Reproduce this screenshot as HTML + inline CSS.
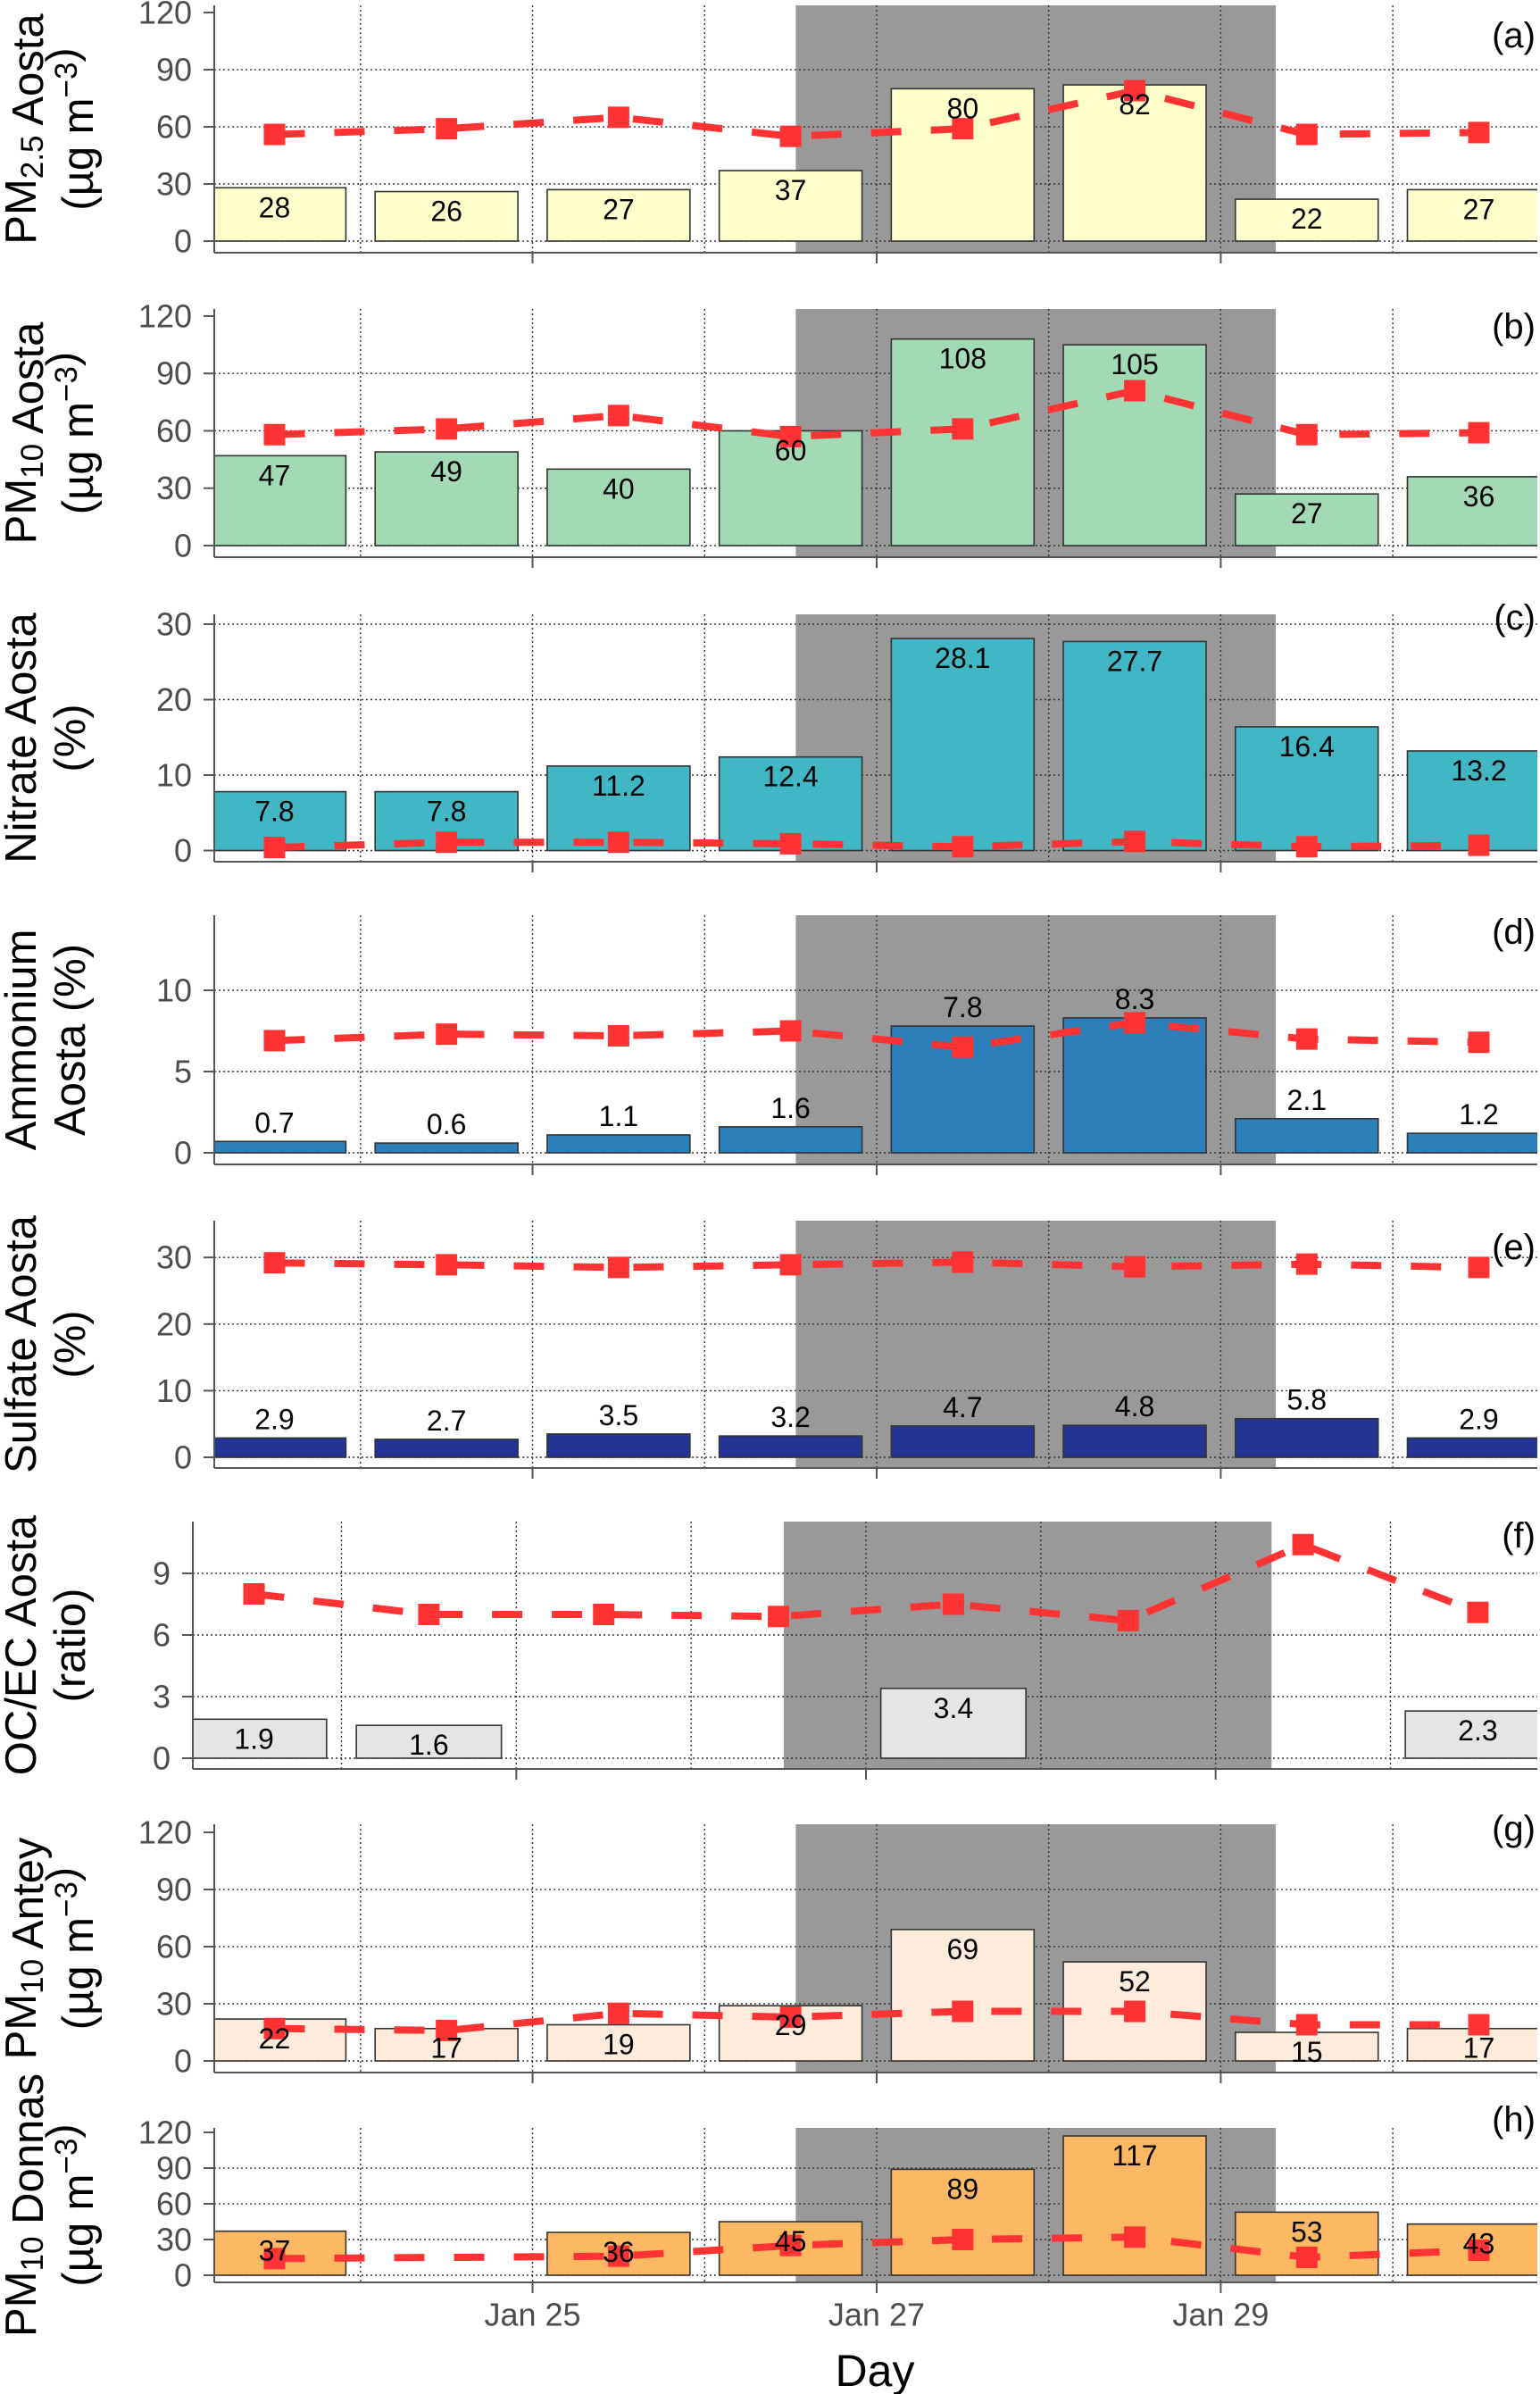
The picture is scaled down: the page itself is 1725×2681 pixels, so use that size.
<!DOCTYPE html>
<html><head><meta charset="utf-8"><style>
html,body{margin:0;padding:0;background:#fff;}
svg{display:block;font-family:"Liberation Sans",Arial,sans-serif;}
</style></head><body>
<svg id="chart" xmlns="http://www.w3.org/2000/svg" width="1725" height="2681" viewBox="0 0 1725 2681"></svg>
<script>
// ---- data ----
const barDays = [23.5,24.5,25.5,26.5,27.5,28.5,29.5,30.5];
const dayGrid = [24,25,26,27,28,29,30];
const xTickDays = [25,27,29];
const xTickLabels = ["Jan 25","Jan 27","Jan 29"];
const shadeStart = 26.53, shadeEnd = 29.32;

const barsA = [28,26,27,37,80,82,22,27];
const lineA = [56,59,65,55,59,79,56,57];
const barsB = [47,49,40,60,108,105,27,36];
const lineB = [58,61,68,57,61,81,58,59];
const barsC = [7.8,7.8,11.2,12.4,28.1,27.7,16.4,13.2];
const lineC = [0.4,1.1,1.1,0.9,0.5,1.2,0.5,0.7];
const barsD = [0.7,0.6,1.1,1.6,7.8,8.3,2.1,1.2];
const lineD = [6.9,7.3,7.2,7.5,6.5,8.0,7.0,6.8];
const barsE = [2.9,2.7,3.5,3.2,4.7,4.8,5.8,2.9];
const lineE = [29.2,28.9,28.5,28.9,29.3,28.6,29.0,28.5];
const barsF = [1.9,1.6,null,null,3.4,null,null,2.3];
const lineF = [8.0,7.0,7.0,6.9,7.5,6.7,10.4,7.1];
const barsG = [22,17,19,29,69,52,15,17];
const lineG = [17,16,25,23,26,26,19,19];
const barsH = [37,null,36,45,89,117,53,43];
const lineH = [14,null,16,25,30,32,15,21];

const ticks120 = [0,30,60,90,120];
const ticksC = [0,10,20,30];
const ticksD = [0,5,10];
const ticksE = [0,10,20,30];
const ticksF = [0,3,6,9];

// ---- layout ----
const panels = [
 {id:'a',bars:barsA,line:lineA,ticks:ticks120,dec:0,left:240,top:6,bot:283,y0:270,ppu:2.133,color:'#ffffcc',above:false,tagY:40,l1:[['PM',0],['2.5',1],[' Aosta',0]],l2:[['(µg m',0],['−3',2],[')',0]],l2x:104},
 {id:'b',bars:barsB,line:lineB,ticks:ticks120,dec:0,left:240,top:346,bot:624,y0:611,ppu:2.142,color:'#a1dab4',above:false,tagY:366,l1:[['PM',0],['10',1],[' Aosta',0]],l2:[['(µg m',0],['−3',2],[')',0]],l2x:104},
 {id:'c',bars:barsC,line:lineC,ticks:ticksC,dec:1,left:240,top:688,bot:965,y0:952.5,ppu:8.45,color:'#41b6c4',above:false,tagY:692,l1:[['Nitrate Aosta',0]],l2:[['(%)',0]],l2x:95},
 {id:'d',bars:barsD,line:lineD,ticks:ticksD,dec:1,left:240,top:1025,bot:1304,y0:1291,ppu:18.2,color:'#2c7fb8',above:true,tagY:1044,l1:[['Ammonium',0]],l2:[['Aosta (%)',0]],l2x:95},
 {id:'e',bars:barsE,line:lineE,ticks:ticksE,dec:1,left:240,top:1367,bot:1644,y0:1632,ppu:7.46,color:'#253494',above:true,tagY:1397,l1:[['Sulfate Aosta',0]],l2:[['(%)',0]],l2x:95},
 {id:'f',bars:barsF,line:lineF,ticks:ticksF,dec:1,left:216,top:1704,bot:1981,y0:1969,ppu:23.0,color:'#e5e5e5',above:false,tagY:1720,l1:[['OC/EC Aosta',0]],l2:[['(ratio)',0]],l2x:95},
 {id:'g',bars:barsG,line:lineG,ticks:ticks120,dec:0,left:240,top:2043,bot:2321,y0:2308,ppu:2.133,color:'#fdebdb',above:false,tagY:2048,l1:[['PM',0],['10',1],[' Antey',0]],l2:[['(µg m',0],['−3',2],[')',0]],l2x:104},
 {id:'h',bars:barsH,line:lineH,ticks:ticks120,dec:0,left:240,top:2383,bot:2556,y0:2548,ppu:1.333,color:'#fdb863',above:false,tagY:2374,l1:[['PM',0],['10',1],[' Donnas',0]],l2:[['(µg m',0],['−3',2],[')',0]],l2x:104}
];
const RIGHT = 1722, DMIN = 23.15, DMAX = 30.84, BARW = 0.83;
const NS = 'http://www.w3.org/2000/svg';
const svg = document.getElementById('chart');
function mk(tag, attrs, parent){const e=document.createElementNS(NS,tag);for(const k in attrs)e.setAttribute(k,attrs[k]);(parent||svg).appendChild(e);return e;}

panels.forEach(p=>{
  const xs = d => p.left + (d-DMIN)*(RIGHT-p.left)/(DMAX-DMIN);
  const ys = v => p.y0 - v*p.ppu;
  const g = mk('g',{});
  
  
  const clip = mk('clipPath',{id:'clip-'+p.id},g);
  mk('rect',{x:p.left,y:p.top,width:RIGHT-p.left,height:p.bot-p.top},clip);
  // shade
  const sh = mk('rect',{x:xs(shadeStart),y:p.top,width:xs(shadeEnd)-xs(shadeStart),height:p.bot-p.top,fill:'#999999'},g);
  
  
  // grid
  p.ticks.forEach(t=>{
    if(t===120) return;
    const gl = mk('line',{x1:p.left,x2:RIGHT,y1:ys(t),y2:ys(t),stroke:'#333',"stroke-width":1.4,"stroke-dasharray":'2 3'},g);
    
    
  });
  dayGrid.forEach(d=>{
    const gl = mk('line',{x1:xs(d),x2:xs(d),y1:p.top,y2:p.bot,stroke:'#333',"stroke-width":1.4,"stroke-dasharray":'2 3'},g);
    
    
  });
  // bars
  const bg = mk('g',{"clip-path":'url(#clip-'+p.id+')'},g);
  p.bars.forEach((v,i)=>{
    if(v===null) return;
    const x0 = xs(barDays[i]-BARW/2), x1 = xs(barDays[i]+BARW/2);
    const r = mk('rect',{x:x0,y:ys(v),width:x1-x0,height:ys(0)-ys(v),fill:p.color,stroke:'#333',"stroke-width":1.6},bg);
    
    
  });
  // line
  let dstr=''; let started=false;
  p.line.forEach((v,i)=>{ if(v===null) return; dstr += (started?' L':'M')+xs(barDays[i]).toFixed(1)+' '+ys(v).toFixed(1); started=true; });
  const ln = mk('path',{d:dstr,fill:'none',stroke:'#ff3333',"stroke-width":8,"stroke-dasharray":'34 33'},g);
  
  
  p.line.forEach((v,i)=>{
    if(v===null) return;
    const m = mk('rect',{x:xs(barDays[i])-12,y:ys(v)-12,width:24,height:24,fill:'#ff3333'},g);
    
    
  });
  // bar labels
  p.bars.forEach((v,i)=>{
    if(v===null) return;
    const ty = p.above ? ys(v)-21 : ys(v)+22;
    const t = mk('text',{x:xs(barDays[i]),y:ty,"text-anchor":'middle',"dominant-baseline":'central',"font-size":32,fill:'#000'},g);
    t.textContent = v.toFixed(p.dec);
    
    
  });
  // axes
  const ya = mk('line',{x1:p.left,x2:p.left,y1:p.top,y2:p.bot,stroke:'#555',"stroke-width":2},g);
  
  
  const xa = mk('line',{x1:p.left,x2:RIGHT,y1:p.bot,y2:p.bot,stroke:'#555',"stroke-width":2},g);
  
  
  p.ticks.forEach(t=>{
    mk('line',{x1:p.left-12,x2:p.left,y1:ys(t),y2:ys(t),stroke:'#555',"stroke-width":2},g);
    const tl = mk('text',{x:p.left-25,y:ys(t),"text-anchor":'end',"dominant-baseline":'central',"font-size":36,fill:'#4d4d4d'},g);
    tl.textContent = String(t);
    
    
  });
  xTickDays.forEach(d=>{
    mk('line',{x1:xs(d),x2:xs(d),y1:p.bot,y2:p.bot+12,stroke:'#555',"stroke-width":2},g);
  });
  // y label
  const cy = (p.top+p.bot)/2;
  [[p.l1,40],[p.l2,p.l2x]].forEach(([parts,bx])=>{
    const t = mk('text',{x:0,y:0,transform:'translate('+bx+','+cy+') rotate(-90)',"text-anchor":'middle',"font-size":49,fill:'#000'},g);
    
    
    parts.forEach(([s,k])=>{
      const sp = mk('tspan',{},t);
      if(k===1){sp.setAttribute('font-size','35');sp.setAttribute('dy','8');}
      if(k===2){sp.setAttribute('font-size','35');sp.setAttribute('dy','-18');}
      sp.textContent = s;
      if(k>0){ const back = mk('tspan',{dy:(k===1?-8:18)},t); back.textContent=''; }
    });
  });
  // tag
  const tag = mk('text',{x:1720,y:p.tagY,"text-anchor":'end',"dominant-baseline":'central',"font-size":40,fill:'#000'},g);
  tag.textContent = '('+p.id+')';
  
  
  if(p.id==='h'){
    xTickDays.forEach((d,i)=>{
      const xl = mk('text',{x:xs(d),y:2592,"text-anchor":'middle',"dominant-baseline":'central',"font-size":36,fill:'#4d4d4d'},g);
      xl.textContent = xTickLabels[i];
      
      
    });
  }
});
const xt = mk('text',{x:980,y:2655,"text-anchor":'middle',"dominant-baseline":'central',"font-size":50,fill:'#000'});
xt.textContent = 'Day';


</script>
</body></html>
